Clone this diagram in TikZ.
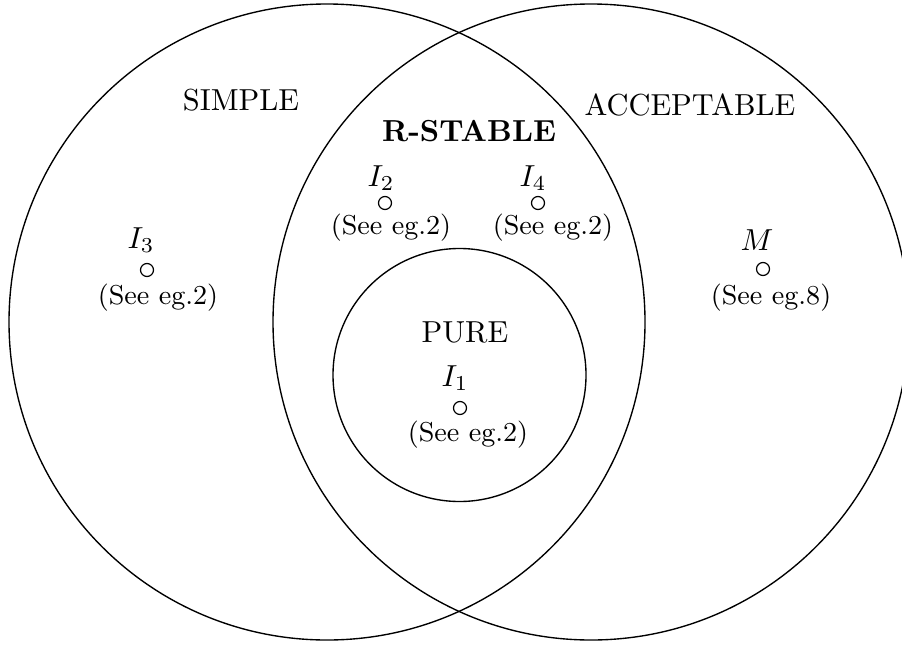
\documentclass[tikz,border=0pt]{standalone}
\begin{document}
\begin{tikzpicture}[x=0.329pt,y=-0.329pt,
  setcircle/.style={draw,circle,line width=0.45pt,inner sep=0pt},
  pt/.style={draw,circle,line width=0.4pt,minimum size=13*0.329pt,inner sep=0pt},
  lab/.style={inner sep=0pt,anchor=center},
  see/.style={inner sep=0pt,anchor=center,font=\small}]
\useasboundingbox (0,0) rectangle (902,644);
% big sets
\node[setcircle,minimum size=636*0.329pt] (simple) at (327,322) {};
\node[setcircle,minimum size=636*0.329pt] (accept) at (591,322) {};
\node[setcircle,minimum size=253*0.329pt] (pure) at (459.5,375) {};
% set names
\node[lab] (tsimple) at (241,100) {SIMPLE};
\node[lab] (taccept) at (690,105) {ACCEPTABLE};
\node[lab,font=\bfseries] (trstable) at (469,131) {R-STABLE};
\node[lab] (tpure) at (465,332) {PURE};
% I2
\node[lab] (l2) at (381,178) {$I_2$};
\node[pt] (p2) at (385,203) {};
\node[see] (s2) at (391,228) {(See eg.2)};
% I4
\node[lab] (l4) at (533,178) {$I_4$};
\node[pt] (p4) at (538,203) {};
\node[see] (s4) at (553,228) {(See eg.2)};
% I3
\node[lab] (l3) at (141,240) {$I_3$};
\node[pt] (p3) at (147,270) {};
\node[see] (s3) at (158,298) {(See eg.2)};
% M
\node[lab] (lm) at (757,240) {$M$};
\node[pt] (pm) at (763,269) {};
\node[see] (sm) at (771,298) {(See eg.8)};
% I1
\node[lab] (l1) at (455,378) {$I_1$};
\node[pt] (p1) at (460,408) {};
\node[see] (s1) at (468,435) {(See eg.2)};
\end{tikzpicture}
\end{document}
